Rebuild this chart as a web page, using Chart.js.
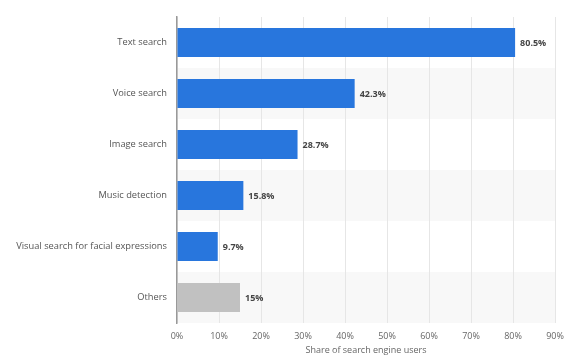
<!DOCTYPE html>
<html><head><meta charset="utf-8">
<script src="https://cdn.jsdelivr.net/npm/chart.js@4/dist/chart.umd.min.js"></script>
<style>html,body{margin:0;padding:0;background:#fff}#wrap{width:569px;height:360px}</style>
</head><body><div id="wrap"><canvas id="c" width="569" height="360"></canvas></div>
<script>
const categories = ["Text search","Voice search","Image search","Music detection","Visual search for facial expressions","Others"];
const values = [80.5, 42.3, 28.7, 15.8, 9.7, 15];
const valueLabels = ["80.5%","42.3%","28.7%","15.8%","9.7%","15%"];
const barColors = ["#2876dd","#2876dd","#2876dd","#2876dd","#2876dd","#c1c1c1"];
const xTicks = [0,10,20,30,40,50,60,70,80,90];

const bandPlugin = {
  id:'bands',
  beforeDraw(chart){
    const {ctx, chartArea:a, scales:{y}} = chart;
    ctx.save();
    ctx.fillStyle = '#f8f8f8';
    categories.forEach((c,i)=>{
      if(i%2===1){
        const p = y.getPixelForValue(i);
        const h = (a.bottom-a.top)/categories.length;
        ctx.fillRect(a.left, p-h/2, a.right-a.left, h);
      }
    });
    ctx.restore();
  }
};
const labelPlugin = {
  id:'vlabels',
  afterDatasetsDraw(chart){
    const {ctx} = chart;
    const meta = chart.getDatasetMeta(0);
    ctx.save();
    ctx.font = 'bold 9px "Open Sans", sans-serif';
    ctx.fillStyle = '#444';
    ctx.textBaseline = 'middle';
    ctx.textAlign = 'left';
    meta.data.forEach((bar,i)=>{
      ctx.fillText(valueLabels[i], bar.x+5, bar.y+1);
    });
    ctx.restore();
  }
};

new Chart(document.getElementById('c'), {
  type:'bar',
  data:{labels:categories, datasets:[{data:values, backgroundColor:barColors, barPercentage:0.57, categoryPercentage:1}]},
  options:{
    indexAxis:'y', responsive:false, animation:false,
    layout:{padding:{top:17,right:14,left:0,bottom:0}},
    plugins:{legend:{display:false}, tooltip:{enabled:false}},
    scales:{
      x:{min:0,max:90,
        afterBuildTicks(s){ s.ticks = xTicks.map(v=>({value:v})); },
        afterFit(s){ s.height = 37; s.paddingRight = 0; },
        grid:{color:'#e6e6e6', drawTicks:false},
        border:{display:false},
        ticks:{padding:8, color:'#666', font:{family:'"Open Sans", sans-serif', size:9}, callback:v=>v+'%', maxRotation:0},
        title:{display:true, text:'Share of search engine users', color:'#666', font:{family:'"Open Sans", sans-serif', size:9}, padding:{top:2,bottom:4}}
      },
      y:{
        afterFit(s){ s.width = 177; },
        grid:{display:false, drawTicks:false},
        border:{display:true, color:'#999', width:1.5},
        ticks:{padding:10, color:'#555', font:{family:'"Open Sans", sans-serif', size:9.3}}
      }
    }
  },
  plugins:[bandPlugin,labelPlugin]
});
</script></body></html>
